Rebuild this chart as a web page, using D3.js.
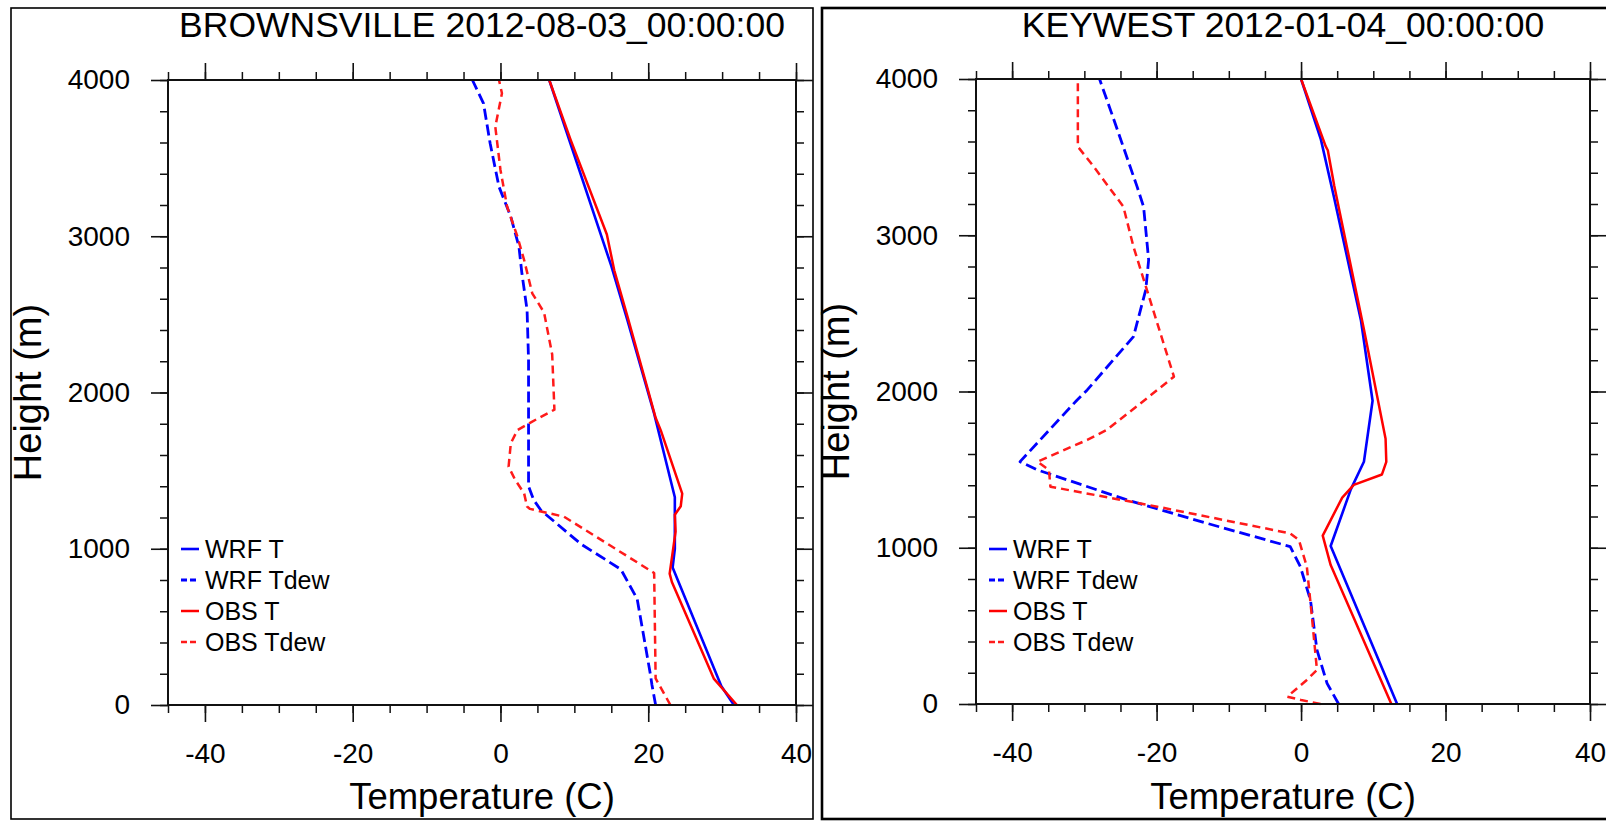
<!DOCTYPE html>
<html>
<head>
<meta charset="utf-8">
<script src="https://cdn.jsdelivr.net/npm/d3@7"></script>
<style>
  html, body { margin: 0; padding: 0; background: #fff; }
  svg { display: block; font-family: "Liberation Sans", Arial, Helvetica, sans-serif; }
</style>
</head>
<body>
<svg id="chart" width="1606" height="822"></svg>
<script>
// temperature (C) vs height (m)
const xMajorTicks = [-40, -20, 0, 20, 40];
const yMajorTicks = [0, 1000, 2000, 3000, 4000];
const legendLabels = ["WRF T", "WRF Tdew", "OBS T", "OBS Tdew"];

// BROWNSVILLE 2012-08-03
const bvWrfT = [[31.6,0],[29.9,120],[23.3,880],[23.6,1000],[23.6,1220],[23.6,1330],[20.8,1865],[17.2,2460],[15.0,2810],[6.6,4000]];
const bvWrfTd = [[21.0,0],[20.5,130],[20.3,194],[19.6,383],[18.5,679],[16.3,868],[10.9,1030],[5.5,1245],[4.5,1312],[3.8,1400],[3.8,1781],[3.8,2208],[3.6,2528],[2.9,2763],[2.5,2933],[1.4,3125],[-0.2,3317],[-1.4,3595],[-2.3,3851],[-3.8,4000]];
const bvObsT = [[32.0,0],[28.9,167],[23.2,787],[22.9,841],[23.7,1110],[23.6,1218],[24.4,1272],[24.6,1353],[21.7,1757],[21.0,1838],[19.9,2027],[17.2,2485],[15.4,2782],[14.4,3011],[9.5,3617],[6.6,4000]];
const bvObsTd = [[23.0,0],[21.0,170],[20.8,845],[8.6,1205],[4.0,1255],[3.6,1270],[3.2,1355],[2.0,1440],[1.1,1525],[1.4,1675],[2.3,1760],[4.7,1824],[7.3,1890],[7.0,2243],[5.9,2512],[4.3,2635],[3.2,2848],[2.3,2997],[0.9,3189],[0.0,3424],[-0.7,3701],[0.2,3915],[-0.2,4000]];

// KEYWEST 2012-01-04
const kwWrfT = [[13.3,0],[4.1,1011],[6.9,1375],[8.7,1550],[9.9,1941],[8.3,2453],[4.6,3235],[2.75,3612],[0,4000]];
const kwWrfTd = [[5.2,0],[3.6,132],[2.2,346],[1.3,666],[-0.1,879],[-1.5,1007],[-13.0,1156],[-24.1,1306],[-36.5,1498],[-38.9,1551],[-31.0,1946],[-29.6,2010],[-23.2,2351],[-21.5,2650],[-21.1,2842],[-21.8,3183],[-22.7,3311],[-25.9,3738],[-27.9,4000]];
const kwObsT = [[12.5,0],[4.1,889],[3.0,1078],[5.7,1321],[7.3,1402],[11.2,1469],[11.8,1550],[11.7,1698],[8.7,2399],[4.6,3315],[3.7,3544],[3.4,3570],[0,4000]];
const kwObsTd = [[2.7,0],[0,26],[-1.9,47],[0.8,154],[2.2,218],[1.5,559],[0.8,879],[-0.3,1050],[-1.5,1092],[-19.9,1263],[-34.7,1391],[-34.9,1498],[-36.5,1551],[-29.6,1690],[-26.9,1754],[-22.2,1925],[-17.6,2095],[-22.2,2778],[-23.2,2927],[-24.6,3183],[-28.7,3439],[-30.9,3567],[-30.9,4000]];

const svg = d3.select("#chart");

// line looks, same order as the legend
const styles = [
  { color: "#0000ff", width: 2.6, dash: null },
  { color: "#0000ff", width: 2.8, dash: "11,5" },
  { color: "#ff0000", width: 2.5, dash: null },
  { color: "#ff1a1a", width: 2.5, dash: "8,5" }
];

// plain labels with a hyphen, like "-40" and "4000"
const plainFmt = d => String(d).replace("\u2212", "-");

function drawPanel(p) {
  // outer box
  svg.append("rect")
    .attr("x", p.box[0]).attr("y", p.box[1])
    .attr("width", p.box[2]).attr("height", p.box[3])
    .attr("fill", "none").attr("stroke", "#000").attr("stroke-width", p.boxStroke);

  const x = d3.scaleLinear().domain([-45, 40]).range([p.left, p.right]);
  const y = d3.scaleLinear().domain([0, 4000]).range([p.bottom, p.top]);

  const g = svg.append("g");

  // minor ticks every 5 C / 200 m on all four sides, pointing out
  const xMinor = d3.range(-45, 41, 5);
  const yMinor = d3.range(0, 4001, 200);
  const axes = [
    [d3.axisBottom(x), `translate(0,${p.bottom})`, xMinor],
    [d3.axisTop(x), `translate(0,${p.top})`, xMinor],
    [d3.axisLeft(y), `translate(${p.left},0)`, yMinor],
    [d3.axisRight(y), `translate(${p.right},0)`, yMinor]
  ];
  axes.forEach(([ax, tr, minor]) => {
    g.append("g").attr("transform", tr)
      .call(ax.tickValues(minor).tickSize(8).tickSizeOuter(0).tickFormat(""))
      .call(s => s.select(".domain").remove())
      .call(s => s.selectAll("line").attr("stroke", "#111").attr("stroke-width", 1.5));
  });
  const majorAxes = [
    [d3.axisBottom(x), `translate(0,${p.bottom})`, xMajorTicks, true],
    [d3.axisTop(x), `translate(0,${p.top})`, xMajorTicks, false],
    [d3.axisLeft(y), `translate(${p.left},0)`, yMajorTicks, true],
    [d3.axisRight(y), `translate(${p.right},0)`, yMajorTicks, false]
  ];
  majorAxes.forEach(([ax, tr, vals, labels]) => {
    ax.tickValues(vals).tickSize(17).tickSizeOuter(0).tickPadding(21)
      .tickFormat(labels ? plainFmt : "");
    g.append("g").attr("transform", tr)
      .call(ax)
      .call(s => s.select(".domain").remove())
      .call(s => s.selectAll("line").attr("stroke", "#111").attr("stroke-width", 1.6))
      .call(s => s.selectAll("text")
        .attr("font-size", 28).attr("fill", "#000")
        .attr("font-family", "Liberation Sans, Arial, sans-serif"));
  });

  // data lines
  const line = d3.line().x(d => x(d[0])).y(d => y(d[1]));
  const plot = svg.append("g");
  p.series.forEach((data, i) => {
    const s = styles[i];
    plot.append("path")
      .datum(data)
      .attr("d", line)
      .attr("fill", "none")
      .attr("stroke", s.color)
      .attr("stroke-width", s.width)
      .attr("stroke-linejoin", "round")
      .attr("stroke-dasharray", s.dash);
  });

  // frame
  svg.append("rect")
    .attr("x", p.left).attr("y", p.top)
    .attr("width", p.right - p.left).attr("height", p.bottom - p.top)
    .attr("fill", "none").attr("stroke", "#111").attr("stroke-width", 2);

  // legend, bottom left
  const leg = svg.append("g");
  legendLabels.forEach((lab, i) => {
    const yy = 549 + i * 31;
    const s = styles[i];
    leg.append("line")
      .attr("x1", p.left + 13).attr("x2", p.left + 31)
      .attr("y1", yy).attr("y2", yy)
      .attr("stroke", s.color).attr("stroke-width", s.width)
      .attr("stroke-dasharray", s.dash ? "6,3" : null);
    leg.append("text")
      .attr("x", p.left + 37).attr("y", yy + 9)
      .attr("font-size", 25)
      .text(lab);
  });

  // titles
  svg.append("text")
    .attr("x", (p.left + p.right) / 2).attr("y", 37)
    .attr("text-anchor", "middle")
    .attr("font-size", 35.5)
    .text(p.title);

  svg.append("text")
    .attr("x", (p.left + p.right) / 2).attr("y", 809)
    .attr("text-anchor", "middle")
    .attr("font-size", 36.5)
    .text("Temperature (C)");

  svg.append("text")
    .attr("transform", `translate(${p.left - 127},${(p.top + p.bottom) / 2}) rotate(-90)`)
    .attr("text-anchor", "middle")
    .attr("font-size", 38)
    .text("Height (m)");
}

drawPanel({
  title: "BROWNSVILLE 2012-08-03_00:00:00",
  box: [11, 8, 802, 811], boxStroke: 1.6,
  left: 168, right: 796, top: 80, bottom: 705,
  series: [bvWrfT, bvWrfTd, bvObsT, bvObsTd]
});

drawPanel({
  title: "KEYWEST 2012-01-04_00:00:00",
  box: [822, 8, 820, 811], boxStroke: 2.6,
  left: 976, right: 1590, top: 79, bottom: 704,
  series: [kwWrfT, kwWrfTd, kwObsT, kwObsTd]
});
</script>
</body>
</html>
